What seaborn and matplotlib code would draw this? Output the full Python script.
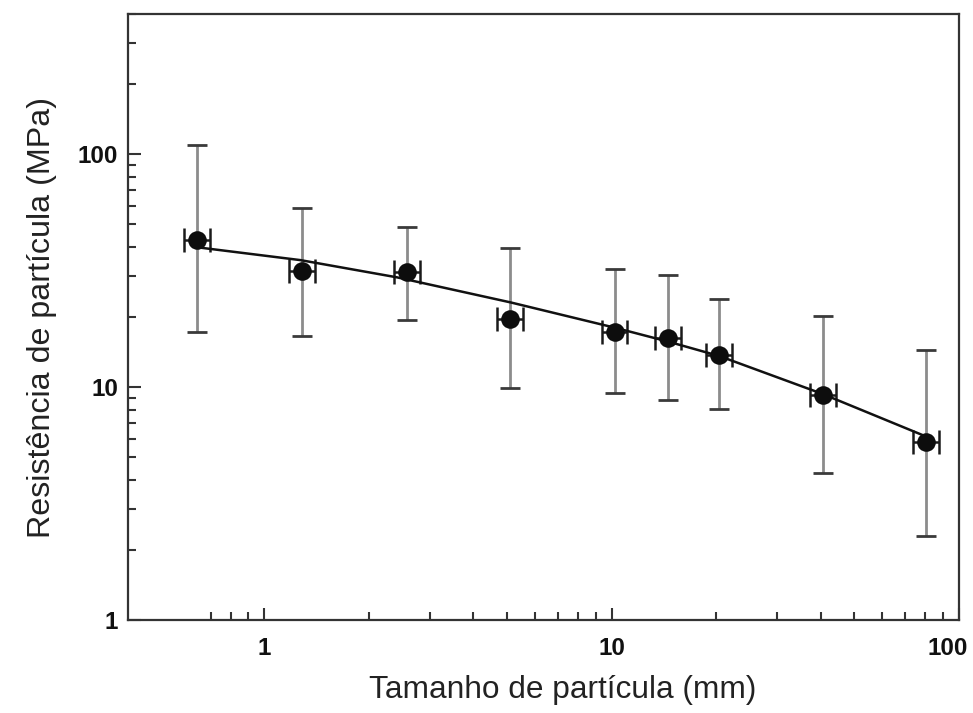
import matplotlib
matplotlib.use("Agg")
import matplotlib.pyplot as plt
import matplotlib.ticker as mticker
import matplotlib.transforms as mtransforms
import seaborn as sns
import pandas as pd
import numpy as np

# Data
size_mm = [0.641, 1.284, 2.57, 5.09, 10.2, 14.5, 20.4, 40.5, 80.3]
size_lo = [0.588, 1.178, 2.36, 4.67, 9.36, 13.3, 18.7, 37.2, 73.7]
size_hi = [0.699, 1.400, 2.80, 5.55, 11.1, 15.8, 22.2, 44.1, 87.5]
strength = [42.8, 31.5, 31.1, 19.7, 17.3, 16.3, 13.8, 9.22, 5.81]
strength_lo = [17.2, 16.5, 19.5, 9.92, 9.4, 8.83, 8.07, 4.28, 2.30]
strength_hi = [109, 58.8, 48.9, 39.5, 32.3, 30.3, 24.0, 20.1, 14.5]

curve_x = [0.645, 1.27, 2.41, 5.12, 10.2, 14.5, 20.4, 40.3, 80.3]
curve_y = [39.8, 35.1, 29.6, 23.1, 18.0, 15.7, 13.6, 9.37, 6.14]

x_ticks = [1, 10, 100]
x_minor = [0.7, 0.8, 0.9, 2, 3, 4, 5, 6, 7, 8, 9, 20, 30, 40, 50, 60, 70, 80, 90]
y_ticks = [1, 10, 100]

xlabel = "Tamanho de partícula (mm)"
ylabel = "Resistência de partícula (MPa)"

sns.set_theme(style="white")
plt.rcParams["font.family"] = ["Liberation Sans", "DejaVu Sans"]

df = pd.DataFrame({"x": size_mm, "y": strength,
                   "xlo": size_lo, "xhi": size_hi,
                   "ylo": strength_lo, "yhi": strength_hi})
cdf = pd.DataFrame({"x": curve_x, "y": curve_y})

fig = plt.figure(figsize=(9.73, 7.13), dpi=100)
ax = fig.add_axes([128 / 973, 1 - 620 / 713, (959 - 128) / 973, (620 - 14) / 713])
ax.set_xscale("log")
ax.set_yscale("log")

# vertical error bars (grey line, dark caps)
yerr = np.array([df["y"] - df["ylo"], df["yhi"] - df["y"]])
_, caps, bars = ax.errorbar(df["x"], df["y"], yerr=yerr, fmt="none",
                            ecolor="#8c8c8c", elinewidth=2.0, capsize=7,
                            capthick=2.0, zorder=2)
for c in caps:
    c.set_color("#3a3a3a")
    c.set_markeredgecolor("#3a3a3a")

# horizontal error bars
xerr = np.array([df["x"] - df["xlo"], df["xhi"] - df["x"]])
ax.errorbar(df["x"], df["y"], xerr=xerr, fmt="none", ecolor="#1a1a1a",
            elinewidth=1.8, capsize=8.5, capthick=1.8, zorder=3)

sns.lineplot(data=cdf, x="x", y="y", ax=ax, color="#111111", linewidth=1.8,
             zorder=4, sort=True)
sns.scatterplot(data=df, x="x", y="y", ax=ax, color="#0d0d0d", s=180,
                edgecolor="#0d0d0d", linewidth=0, zorder=5)

ax.set_xlim(0.405, 100)
ax.set_ylim(1, 400)

ax.xaxis.set_major_locator(mticker.FixedLocator(x_ticks))
ax.xaxis.set_minor_locator(mticker.FixedLocator(x_minor))
ax.xaxis.set_major_formatter(mticker.FixedFormatter([str(t) for t in x_ticks]))
ax.xaxis.set_minor_formatter(mticker.NullFormatter())
ax.yaxis.set_major_locator(mticker.FixedLocator(y_ticks))
ax.yaxis.set_minor_locator(mticker.LogLocator(base=10, subs=np.arange(2, 10)))
ax.yaxis.set_major_formatter(mticker.FixedFormatter([str(t) for t in y_ticks]))
ax.yaxis.set_minor_formatter(mticker.NullFormatter())

ax.tick_params(which="both", direction="in", color="#333333", width=1.5,
               bottom=True, left=True, top=False, right=False)
ax.tick_params(which="major", length=9, labelsize=17.5)
ax.tick_params(axis="x", which="major", pad=12)
ax.tick_params(axis="y", which="major", pad=7)
ax.tick_params(which="minor", length=6)
for lab in ax.get_xticklabels() + ax.get_yticklabels():
    lab.set_fontweight("bold")
    lab.set_color("#111111")

# last x tick label sits slightly left of its tick, as in the reference
xl = ax.get_xticklabels()
xl[-1].set_transform(xl[-1].get_transform() +
                     mtransforms.ScaledTranslation(-11 / 100, 0, fig.dpi_scale_trans))

for s in ax.spines.values():
    s.set_color("#333333")
    s.set_linewidth(1.6)

ax.set_xlabel(xlabel, fontsize=22.8, color="#222222", labelpad=10)
ax.set_ylabel(ylabel, fontsize=23.2, color="#222222", labelpad=15)
ax.xaxis.set_label_coords(0.5 + 19 / 831, -0.09)
ax.grid(False)

fig.savefig("out.png", dpi=100)
